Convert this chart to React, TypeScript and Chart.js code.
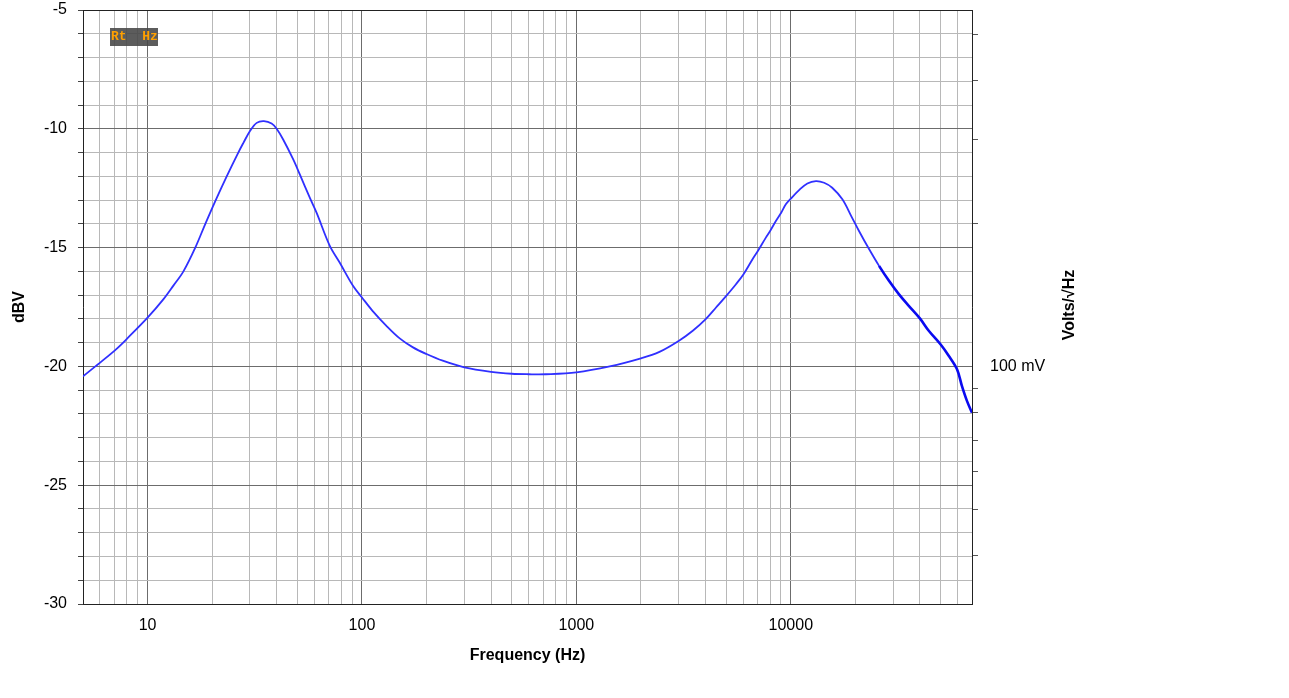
import { useEffect, useRef } from "react";
import { Chart, registerables, type Plugin } from "chart.js";

Chart.register(...registerables);

// values
const freqHz = [
  5, 5.71, 6.03, 7.15, 8.05, 10, 11.87, 13.2, 14.7, 16.7, 18.6, 20.8, 23.4, 26.5,
  28, 30, 32.3, 34.9, 37.9, 40, 42.9, 47.8, 51.3, 57.1, 61.4, 70.8, 78.7, 90.8,
  100, 112, 130, 150, 173, 200, 238, 300, 400, 500, 600, 720, 1000, 1430, 2000,
  2440, 3010, 3490, 4010, 4480, 5000, 5550, 6020, 6630, 7020, 7650, 8010, 8520,
  9020, 9480, 10000, 10930, 11950, 13100, 14300, 15600, 17400, 19300, 20800,
  23100, 25800, 28700, 31900, 35500, 40000, 44000, 50000, 54500, 59600, 62800,
  66300, 70000,
];
const levelDbv = [
  -20.42, -20.0, -19.83, -19.27, -18.82, -17.95, -17.17, -16.6, -16.0, -15.0,
  -14.0, -13.0, -12.0, -11.0, -10.59, -10.1, -9.75, -9.68, -9.78, -10.0, -10.45,
  -11.29, -11.92, -12.9, -13.53, -14.93, -15.63, -16.61, -17.1, -17.66, -18.29,
  -18.82, -19.2, -19.48, -19.76, -20.04, -20.23, -20.31, -20.33, -20.33, -20.25,
  -20.0, -19.66, -19.39, -18.92, -18.5, -18.01, -17.52, -17.03, -16.54, -16.12,
  -15.49, -15.14, -14.58, -14.3, -13.88, -13.53, -13.18, -12.94, -12.58, -12.3,
  -12.2, -12.27, -12.48, -12.97, -13.74, -14.3, -15.04, -15.77, -16.4, -16.96,
  -17.45, -17.98, -18.5, -19.08, -19.55, -20.12, -20.82, -21.45, -21.95,
];

const decadeLabels = [10, 100, 1000, 10000];
const freqGrid = [
  5, 6, 7, 8, 9, 10, 20, 30, 40, 50, 60, 70, 80, 90, 100, 200, 300, 400, 500,
  600, 700, 800, 900, 1000, 2000, 3000, 4000, 5000, 6000, 7000, 8000, 9000,
  10000, 20000, 30000, 40000, 50000, 60000, 70000,
];
const dbvGrid = [
  -30, -29, -28, -27, -26, -25, -24, -23, -22, -21, -20, -19, -18, -17, -16,
  -15, -14, -13, -12, -11, -10, -9, -8, -7, -6, -5,
];
const voltTicks = [0.04, 0.05, 0.06, 0.07, 0.08, 0.09, 0.1, 0.2, 0.3, 0.4, 0.5];

const FONT = "Arial, 'Liberation Sans', sans-serif";
const MAJOR = "#6c6c6c";
const MINOR = "#b8b8b8";

const framePlugin: Plugin<"line"> = {
  id: "frame",
  afterDatasetsDraw(chart) {
    const { ctx, chartArea } = chart;
    ctx.save();
    ctx.strokeStyle = "#222";
    ctx.lineWidth = 1;
    ctx.beginPath();
    ctx.moveTo(chartArea.left, Math.round(chartArea.top) + 0.5);
    ctx.lineTo(chartArea.right, Math.round(chartArea.top) + 0.5);
    ctx.stroke();

    // "Rt Hz" badge
    const bx = chartArea.left + 27;
    const by = chartArea.top + 18;
    ctx.fillStyle = "rgba(70,70,70,0.88)";
    ctx.fillRect(bx, by, 48, 18);
    ctx.fillStyle = "#ffa000";
    ctx.font = "bold 13px 'Liberation Mono', monospace";
    ctx.textBaseline = "middle";
    ctx.textAlign = "left";
    ctx.fillText("Rt  Hz", bx + 1, by + 9);

    // right axis title, reading bottom to top
    ctx.fillStyle = "#000";
    ctx.font = `bold 16px ${FONT}`;
    ctx.textAlign = "center";
    ctx.translate(chartArea.right + 98, (chartArea.top + chartArea.bottom) / 2 - 2);
    ctx.rotate(-Math.PI / 2);
    ctx.fillText("Volts/√Hz", 0, 0);
    ctx.restore();
  },
};

export default function App() {
  const canvasRef = useRef<HTMLCanvasElement>(null);

  useEffect(() => {
    if (!canvasRef.current) return;
    Chart.defaults.font.family = FONT;
    Chart.defaults.font.size = 16;
    Chart.defaults.color = "#000";

    const chart = new Chart(canvasRef.current, {
      type: "line",
      data: {
        datasets: [
          {
            data: freqHz.map((f, i) => ({ x: f, y: levelDbv[i] })),
            borderColor: "#3030ff",
            borderWidth: 1.8,
            pointRadius: 0,
            tension: 0.35,
            segment: {
              borderColor: (c) => (c.p0.parsed.x >= 25000 ? "#0a0af0" : undefined),
              borderWidth: (c) => (c.p0.parsed.x >= 25000 ? 2.6 : undefined),
            },
          },
        ],
      },
      options: {
        animation: false,
        responsive: false,
        layout: { padding: { top: 0, right: 200, bottom: 0, left: 0 } },
        plugins: {
          legend: { display: false },
          tooltip: { enabled: false },
        },
        scales: {
          x: {
            type: "logarithmic",
            min: 5,
            max: 70000,
            afterBuildTicks: (s) => {
              s.ticks = freqGrid.map((v) => ({ value: v }));
            },
            afterFit: (s) => {
              s.height = 94;
              s.paddingLeft = 0;
              s.paddingRight = 0;
            },
            ticks: {
              autoSkip: false,
              maxRotation: 0,
              padding: 12,
              callback: (v) => (decadeLabels.includes(Number(v)) ? String(v) : ""),
            },
            grid: {
              drawTicks: false,
              color: (c) => (c.tick && decadeLabels.includes(c.tick.value) ? MAJOR : MINOR),
            },
            border: { color: "#222" },
            title: {
              display: true,
              text: "Frequency (Hz)",
              font: { weight: "bold", size: 16 },
              padding: { top: 4, bottom: 33 },
            },
          },
          y: {
            type: "linear",
            min: -30,
            max: -5,
            afterBuildTicks: (s) => {
              s.ticks = dbvGrid.map((v) => ({ value: v }));
            },
            afterFit: (s) => {
              s.width = 83;
              s.paddingTop = 10;
              s.paddingBottom = 0;
            },
            ticks: {
              autoSkip: false,
              padding: 11,
              callback: (v) => (Number(v) % 5 === 0 ? String(v) : ""),
            },
            grid: {
              tickLength: 5,
              color: (c) => (c.tick && c.tick.value % 5 === 0 ? MAJOR : MINOR),
              tickColor: "#444",
            },
            border: { color: "#222" },
            title: {
              display: true,
              text: "dBV",
              font: { weight: "bold", size: 16 },
              padding: { top: 10, bottom: 0 },
            },
          },
          y2: {
            type: "logarithmic",
            position: "right",
            min: Math.pow(10, -30 / 20),
            max: Math.pow(10, -5 / 20),
            afterBuildTicks: (s) => {
              s.ticks = voltTicks.map((v) => ({ value: v }));
            },
            afterFit: (s) => {
              s.width = 117;
              s.paddingTop = 0;
              s.paddingBottom = 0;
            },
            ticks: {
              autoSkip: false,
              padding: 12,
              callback: (v) => (Number(v) === 0.1 ? "100 mV" : ""),
            },
            grid: {
              drawOnChartArea: false,
              tickLength: 6,
              tickColor: (c) => (c.tick && c.tick.value === 0.1 ? "rgba(0,0,0,0)" : "#555"),
            },
            border: { color: "#222" },
          },
        },
      },
      plugins: [framePlugin],
    });

    return () => {
      chart.destroy();
    };
  }, []);

  return (
    <canvas
      ref={canvasRef}
      width={1289}
      height={698}
      style={{ position: "absolute", left: 0, top: 0, background: "#fff" }}
    />
  );
}
